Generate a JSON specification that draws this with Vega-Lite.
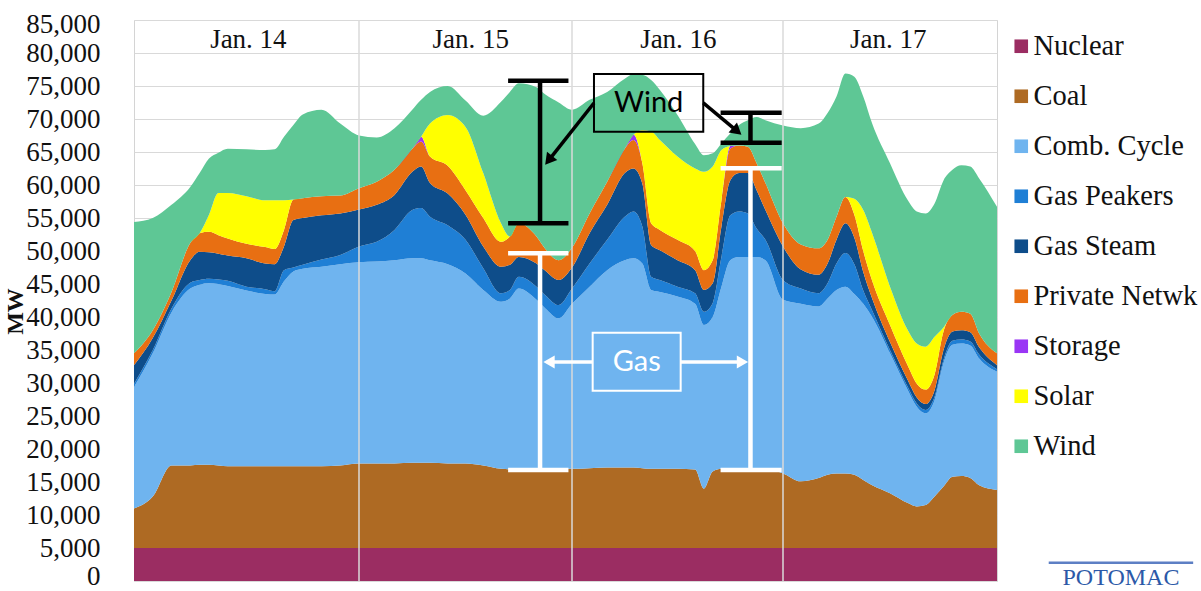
{
"$schema":"https://vega.github.io/schema/vega-lite/v6.json",
"width":863,"height":561,
"autosize":{"type":"none"},
"padding":{"left":134,"top":20,"right":204,"bottom":10},
"background":"white",
"config":{"view":{"stroke":"#d4d4d4","strokeWidth":1},"font":"Liberation Serif","axis":{"labelOverlap":false},"axisY":{"labelOverlap":false,"labelSeparation":0}},
"datasets":{
"order":[{"s":"Nuclear","k":1},{"s":"Coal","k":2},{"s":"Comb. Cycle","k":3},{"s":"Gas Peakers","k":4},{"s":"Gas Steam","k":5},{"s":"Private Netwk","k":6},{"s":"Storage","k":7},{"s":"Solar","k":8},{"s":"Wind","k":9}],
"gen":[
{"t":0,"s":"Nuclear","v":5000},{"t":0,"s":"Coal","v":6000},{"t":0,"s":"Comb. Cycle","v":18400},{"t":0,"s":"Gas Peakers","v":500},{"t":0,"s":"Gas Steam","v":2800},{"t":0,"s":"Private Netwk","v":1800},{"t":0,"s":"Storage","v":0},{"t":0,"s":"Solar","v":0},{"t":0,"s":"Wind","v":19900},
{"t":2,"s":"Nuclear","v":5000},{"t":2,"s":"Coal","v":7800},{"t":2,"s":"Comb. Cycle","v":21700},{"t":2,"s":"Gas Peakers","v":500},{"t":2,"s":"Gas Steam","v":1800},{"t":2,"s":"Private Netwk","v":1200},{"t":2,"s":"Storage","v":0},{"t":2,"s":"Solar","v":0},{"t":2,"s":"Wind","v":17000},
{"t":4,"s":"Nuclear","v":5000},{"t":4,"s":"Coal","v":12500},{"t":4,"s":"Comb. Cycle","v":23200},{"t":4,"s":"Gas Peakers","v":600},{"t":4,"s":"Gas Steam","v":1200},{"t":4,"s":"Private Netwk","v":1300},{"t":4,"s":"Storage","v":0},{"t":4,"s":"Solar","v":0},{"t":4,"s":"Wind","v":13200},
{"t":6,"s":"Nuclear","v":5000},{"t":6,"s":"Coal","v":12500},{"t":6,"s":"Comb. Cycle","v":26800},{"t":6,"s":"Gas Peakers","v":900},{"t":6,"s":"Gas Steam","v":3400},{"t":6,"s":"Private Netwk","v":2600},{"t":6,"s":"Storage","v":0},{"t":6,"s":"Solar","v":0},{"t":6,"s":"Wind","v":8500},
{"t":7,"s":"Nuclear","v":5000},{"t":7,"s":"Coal","v":12600},{"t":7,"s":"Comb. Cycle","v":27300},{"t":7,"s":"Gas Peakers","v":700},{"t":7,"s":"Gas Steam","v":4300},{"t":7,"s":"Private Netwk","v":2800},{"t":7,"s":"Storage","v":0},{"t":7,"s":"Solar","v":0},{"t":7,"s":"Wind","v":9100},
{"t":8,"s":"Nuclear","v":5000},{"t":8,"s":"Coal","v":12600},{"t":8,"s":"Comb. Cycle","v":27500},{"t":8,"s":"Gas Peakers","v":700},{"t":8,"s":"Gas Steam","v":4000},{"t":8,"s":"Private Netwk","v":3100},{"t":8,"s":"Storage","v":0},{"t":8,"s":"Solar","v":2600},{"t":8,"s":"Wind","v":8500},
{"t":9,"s":"Nuclear","v":5000},{"t":9,"s":"Coal","v":12500},{"t":9,"s":"Comb. Cycle","v":27500},{"t":9,"s":"Gas Peakers","v":700},{"t":9,"s":"Gas Steam","v":3900},{"t":9,"s":"Private Netwk","v":2800},{"t":9,"s":"Storage","v":0},{"t":9,"s":"Solar","v":6400},{"t":9,"s":"Wind","v":6100},
{"t":10,"s":"Nuclear","v":5000},{"t":10,"s":"Coal","v":12400},{"t":10,"s":"Comb. Cycle","v":27300},{"t":10,"s":"Gas Peakers","v":800},{"t":10,"s":"Gas Steam","v":3800},{"t":10,"s":"Private Netwk","v":2600},{"t":10,"s":"Storage","v":0},{"t":10,"s":"Solar","v":6900},{"t":10,"s":"Wind","v":6700},
{"t":12,"s":"Nuclear","v":5000},{"t":12,"s":"Coal","v":12400},{"t":12,"s":"Comb. Cycle","v":26600},{"t":12,"s":"Gas Peakers","v":600},{"t":12,"s":"Gas Steam","v":4300},{"t":12,"s":"Private Netwk","v":2200},{"t":12,"s":"Storage","v":0},{"t":12,"s":"Solar","v":7200},{"t":12,"s":"Wind","v":7100},
{"t":14,"s":"Nuclear","v":5000},{"t":14,"s":"Coal","v":12400},{"t":14,"s":"Comb. Cycle","v":26100},{"t":14,"s":"Gas Peakers","v":700},{"t":14,"s":"Gas Steam","v":3900},{"t":14,"s":"Private Netwk","v":2500},{"t":14,"s":"Storage","v":0},{"t":14,"s":"Solar","v":7100},{"t":14,"s":"Wind","v":7600},
{"t":15,"s":"Nuclear","v":5000},{"t":15,"s":"Coal","v":12400},{"t":15,"s":"Comb. Cycle","v":26000},{"t":15,"s":"Gas Peakers","v":500},{"t":15,"s":"Gas Steam","v":4100},{"t":15,"s":"Private Netwk","v":2300},{"t":15,"s":"Storage","v":0},{"t":15,"s":"Solar","v":7400},{"t":15,"s":"Wind","v":7700},
{"t":16,"s":"Nuclear","v":5000},{"t":16,"s":"Coal","v":12400},{"t":16,"s":"Comb. Cycle","v":28000},{"t":16,"s":"Gas Peakers","v":1700},{"t":16,"s":"Gas Steam","v":3600},{"t":16,"s":"Private Netwk","v":2500},{"t":16,"s":"Storage","v":0},{"t":16,"s":"Solar","v":4500},{"t":16,"s":"Wind","v":9600},
{"t":17,"s":"Nuclear","v":5000},{"t":17,"s":"Coal","v":12400},{"t":17,"s":"Comb. Cycle","v":29500},{"t":17,"s":"Gas Peakers","v":600},{"t":17,"s":"Gas Steam","v":7200},{"t":17,"s":"Private Netwk","v":3100},{"t":17,"s":"Storage","v":0},{"t":17,"s":"Solar","v":0},{"t":17,"s":"Wind","v":11300},
{"t":18,"s":"Nuclear","v":5000},{"t":18,"s":"Coal","v":12400},{"t":18,"s":"Comb. Cycle","v":29900},{"t":18,"s":"Gas Peakers","v":600},{"t":18,"s":"Gas Steam","v":7100},{"t":18,"s":"Private Netwk","v":3000},{"t":18,"s":"Storage","v":0},{"t":18,"s":"Solar","v":0},{"t":18,"s":"Wind","v":12700},
{"t":20,"s":"Nuclear","v":5000},{"t":20,"s":"Coal","v":12400},{"t":20,"s":"Comb. Cycle","v":30200},{"t":20,"s":"Gas Peakers","v":1100},{"t":20,"s":"Gas Steam","v":6700},{"t":20,"s":"Private Netwk","v":2900},{"t":20,"s":"Storage","v":0},{"t":20,"s":"Solar","v":0},{"t":20,"s":"Wind","v":13100},
{"t":22,"s":"Nuclear","v":5000},{"t":22,"s":"Coal","v":12500},{"t":22,"s":"Comb. Cycle","v":30500},{"t":22,"s":"Gas Peakers","v":1400},{"t":22,"s":"Gas Steam","v":6300},{"t":22,"s":"Private Netwk","v":2700},{"t":22,"s":"Storage","v":0},{"t":22,"s":"Solar","v":0},{"t":22,"s":"Wind","v":10900},
{"t":24,"s":"Nuclear","v":5000},{"t":24,"s":"Coal","v":12800},{"t":24,"s":"Comb. Cycle","v":30500},{"t":24,"s":"Gas Peakers","v":2400},{"t":24,"s":"Gas Steam","v":5600},{"t":24,"s":"Private Netwk","v":3200},{"t":24,"s":"Storage","v":0},{"t":24,"s":"Solar","v":0},{"t":24,"s":"Wind","v":8000},
{"t":26,"s":"Nuclear","v":5000},{"t":26,"s":"Coal","v":12800},{"t":26,"s":"Comb. Cycle","v":30600},{"t":26,"s":"Gas Peakers","v":3000},{"t":26,"s":"Gas Steam","v":5600},{"t":26,"s":"Private Netwk","v":3500},{"t":26,"s":"Storage","v":0},{"t":26,"s":"Solar","v":0},{"t":26,"s":"Wind","v":6700},
{"t":28,"s":"Nuclear","v":5000},{"t":28,"s":"Coal","v":12800},{"t":28,"s":"Comb. Cycle","v":30800},{"t":28,"s":"Gas Peakers","v":4600},{"t":28,"s":"Gas Steam","v":5300},{"t":28,"s":"Private Netwk","v":3800},{"t":28,"s":"Storage","v":0},{"t":28,"s":"Solar","v":0},{"t":28,"s":"Wind","v":6300},
{"t":30,"s":"Nuclear","v":5000},{"t":30,"s":"Coal","v":12900},{"t":30,"s":"Comb. Cycle","v":31000},{"t":30,"s":"Gas Peakers","v":7300},{"t":30,"s":"Gas Steam","v":5800},{"t":30,"s":"Private Netwk","v":3500},{"t":30,"s":"Storage","v":0},{"t":30,"s":"Solar","v":0},{"t":30,"s":"Wind","v":5900},
{"t":31,"s":"Nuclear","v":5000},{"t":31,"s":"Coal","v":12900},{"t":31,"s":"Comb. Cycle","v":31000},{"t":31,"s":"Gas Peakers","v":7600},{"t":31,"s":"Gas Steam","v":6300},{"t":31,"s":"Private Netwk","v":3800},{"t":31,"s":"Storage","v":700},{"t":31,"s":"Solar","v":0},{"t":31,"s":"Wind","v":5600},
{"t":32,"s":"Nuclear","v":5000},{"t":32,"s":"Coal","v":12900},{"t":32,"s":"Comb. Cycle","v":30700},{"t":32,"s":"Gas Peakers","v":6600},{"t":32,"s":"Gas Steam","v":5100},{"t":32,"s":"Private Netwk","v":4000},{"t":32,"s":"Storage","v":0},{"t":32,"s":"Solar","v":5000},{"t":32,"s":"Wind","v":4800},
{"t":34,"s":"Nuclear","v":5000},{"t":34,"s":"Coal","v":12800},{"t":34,"s":"Comb. Cycle","v":30200},{"t":34,"s":"Gas Peakers","v":5900},{"t":34,"s":"Gas Steam","v":4800},{"t":34,"s":"Private Netwk","v":4200},{"t":34,"s":"Storage","v":0},{"t":34,"s":"Solar","v":7700},{"t":34,"s":"Wind","v":4400},
{"t":36,"s":"Nuclear","v":5000},{"t":36,"s":"Coal","v":12800},{"t":36,"s":"Comb. Cycle","v":28800},{"t":36,"s":"Gas Peakers","v":5100},{"t":36,"s":"Gas Steam","v":3800},{"t":36,"s":"Private Netwk","v":3700},{"t":36,"s":"Storage","v":0},{"t":36,"s":"Solar","v":9600},{"t":36,"s":"Wind","v":4000},
{"t":38,"s":"Nuclear","v":5000},{"t":38,"s":"Coal","v":12500},{"t":38,"s":"Comb. Cycle","v":26600},{"t":38,"s":"Gas Peakers","v":3300},{"t":38,"s":"Gas Steam","v":3300},{"t":38,"s":"Private Netwk","v":4300},{"t":38,"s":"Storage","v":0},{"t":38,"s":"Solar","v":6800},{"t":38,"s":"Wind","v":8700},
{"t":40,"s":"Nuclear","v":5000},{"t":40,"s":"Coal","v":12000},{"t":40,"s":"Comb. Cycle","v":25300},{"t":40,"s":"Gas Peakers","v":1300},{"t":40,"s":"Gas Steam","v":4000},{"t":40,"s":"Private Netwk","v":3800},{"t":40,"s":"Storage","v":0},{"t":40,"s":"Solar","v":2800},{"t":40,"s":"Wind","v":18400},
{"t":41,"s":"Nuclear","v":5000},{"t":41,"s":"Coal","v":11900},{"t":41,"s":"Comb. Cycle","v":25900},{"t":41,"s":"Gas Peakers","v":1300},{"t":41,"s":"Gas Steam","v":3800},{"t":41,"s":"Private Netwk","v":4300},{"t":41,"s":"Storage","v":0},{"t":41,"s":"Solar","v":0},{"t":41,"s":"Wind","v":21900},
{"t":42,"s":"Nuclear","v":5000},{"t":42,"s":"Coal","v":11800},{"t":42,"s":"Comb. Cycle","v":27500},{"t":42,"s":"Gas Peakers","v":1800},{"t":42,"s":"Gas Steam","v":3000},{"t":42,"s":"Private Netwk","v":5100},{"t":42,"s":"Storage","v":0},{"t":42,"s":"Solar","v":0},{"t":42,"s":"Wind","v":21200},
{"t":44,"s":"Nuclear","v":5000},{"t":44,"s":"Coal","v":11800},{"t":44,"s":"Comb. Cycle","v":25800},{"t":44,"s":"Gas Peakers","v":2000},{"t":44,"s":"Gas Steam","v":3500},{"t":44,"s":"Private Netwk","v":4100},{"t":44,"s":"Storage","v":0},{"t":44,"s":"Solar","v":0},{"t":44,"s":"Wind","v":22600},
{"t":45,"s":"Nuclear","v":5000},{"t":45,"s":"Coal","v":11900},{"t":45,"s":"Comb. Cycle","v":24400},{"t":45,"s":"Gas Peakers","v":2000},{"t":45,"s":"Gas Steam","v":3700},{"t":45,"s":"Private Netwk","v":3300},{"t":45,"s":"Storage","v":0},{"t":45,"s":"Solar","v":0},{"t":45,"s":"Wind","v":23400},
{"t":46.5,"s":"Nuclear","v":5000},{"t":46.5,"s":"Coal","v":12000},{"t":46.5,"s":"Comb. Cycle","v":22800},{"t":46.5,"s":"Gas Peakers","v":2000},{"t":46.5,"s":"Gas Steam","v":3800},{"t":46.5,"s":"Private Netwk","v":3000},{"t":46.5,"s":"Storage","v":0},{"t":46.5,"s":"Solar","v":0},{"t":46.5,"s":"Wind","v":23900},
{"t":48,"s":"Nuclear","v":5000},{"t":48,"s":"Coal","v":12000},{"t":48,"s":"Comb. Cycle","v":25000},{"t":48,"s":"Gas Peakers","v":2300},{"t":48,"s":"Gas Steam","v":3200},{"t":48,"s":"Private Netwk","v":3000},{"t":48,"s":"Storage","v":0},{"t":48,"s":"Solar","v":0},{"t":48,"s":"Wind","v":20900},
{"t":50,"s":"Nuclear","v":5000},{"t":50,"s":"Coal","v":12100},{"t":50,"s":"Comb. Cycle","v":27500},{"t":50,"s":"Gas Peakers","v":3500},{"t":50,"s":"Gas Steam","v":4600},{"t":50,"s":"Private Netwk","v":3000},{"t":50,"s":"Storage","v":0},{"t":50,"s":"Solar","v":0},{"t":50,"s":"Wind","v":17200},
{"t":52,"s":"Nuclear","v":5000},{"t":52,"s":"Coal","v":12200},{"t":52,"s":"Comb. Cycle","v":29900},{"t":52,"s":"Gas Peakers","v":4600},{"t":52,"s":"Gas Steam","v":5300},{"t":52,"s":"Private Netwk","v":3500},{"t":52,"s":"Storage","v":0},{"t":52,"s":"Solar","v":0},{"t":52,"s":"Wind","v":13600},
{"t":54,"s":"Nuclear","v":5000},{"t":54,"s":"Coal","v":12200},{"t":54,"s":"Comb. Cycle","v":31400},{"t":54,"s":"Gas Peakers","v":6600},{"t":54,"s":"Gas Steam","v":6600},{"t":54,"s":"Private Netwk","v":3700},{"t":54,"s":"Storage","v":0},{"t":54,"s":"Solar","v":0},{"t":54,"s":"Wind","v":10600},
{"t":55,"s":"Nuclear","v":5000},{"t":55,"s":"Coal","v":12200},{"t":55,"s":"Comb. Cycle","v":31700},{"t":55,"s":"Gas Peakers","v":7100},{"t":55,"s":"Gas Steam","v":6500},{"t":55,"s":"Private Netwk","v":4300},{"t":55,"s":"Storage","v":800},{"t":55,"s":"Solar","v":0},{"t":55,"s":"Wind","v":9200},
{"t":56,"s":"Nuclear","v":5000},{"t":56,"s":"Coal","v":12100},{"t":56,"s":"Comb. Cycle","v":31000},{"t":56,"s":"Gas Peakers","v":5600},{"t":56,"s":"Gas Steam","v":6500},{"t":56,"s":"Private Netwk","v":3100},{"t":56,"s":"Storage","v":0},{"t":56,"s":"Solar","v":5000},{"t":56,"s":"Wind","v":8400},
{"t":57,"s":"Nuclear","v":5000},{"t":57,"s":"Coal","v":12000},{"t":57,"s":"Comb. Cycle","v":27100},{"t":57,"s":"Gas Peakers","v":2000},{"t":57,"s":"Gas Steam","v":4800},{"t":57,"s":"Private Netwk","v":3300},{"t":57,"s":"Storage","v":0},{"t":57,"s":"Solar","v":13900},{"t":57,"s":"Wind","v":7800},
{"t":58,"s":"Nuclear","v":5000},{"t":58,"s":"Coal","v":12000},{"t":58,"s":"Comb. Cycle","v":26800},{"t":58,"s":"Gas Peakers","v":1800},{"t":58,"s":"Gas Steam","v":4500},{"t":58,"s":"Private Netwk","v":3100},{"t":58,"s":"Storage","v":0},{"t":58,"s":"Solar","v":13600},{"t":58,"s":"Wind","v":7600},
{"t":60,"s":"Nuclear","v":5000},{"t":60,"s":"Coal","v":12000},{"t":60,"s":"Comb. Cycle","v":26100},{"t":60,"s":"Gas Peakers","v":1500},{"t":60,"s":"Gas Steam","v":4000},{"t":60,"s":"Private Netwk","v":3100},{"t":60,"s":"Storage","v":0},{"t":60,"s":"Solar","v":12600},{"t":60,"s":"Wind","v":6300},
{"t":62,"s":"Nuclear","v":5000},{"t":62,"s":"Coal","v":11900},{"t":62,"s":"Comb. Cycle","v":25100},{"t":62,"s":"Gas Peakers","v":1600},{"t":62,"s":"Gas Steam","v":3500},{"t":62,"s":"Private Netwk","v":2900},{"t":62,"s":"Storage","v":0},{"t":62,"s":"Solar","v":12500},{"t":62,"s":"Wind","v":3700},
{"t":63,"s":"Nuclear","v":5000},{"t":63,"s":"Coal","v":9000},{"t":63,"s":"Comb. Cycle","v":24800},{"t":63,"s":"Gas Peakers","v":2000},{"t":63,"s":"Gas Steam","v":3300},{"t":63,"s":"Private Netwk","v":3000},{"t":63,"s":"Storage","v":0},{"t":63,"s":"Solar","v":14900},{"t":63,"s":"Wind","v":2500},
{"t":64,"s":"Nuclear","v":5000},{"t":64,"s":"Coal","v":11600},{"t":64,"s":"Comb. Cycle","v":23400},{"t":64,"s":"Gas Peakers","v":2100},{"t":64,"s":"Gas Steam","v":3000},{"t":64,"s":"Private Netwk","v":3500},{"t":64,"s":"Storage","v":0},{"t":64,"s":"Solar","v":14200},{"t":64,"s":"Wind","v":2000},
{"t":65,"s":"Nuclear","v":5000},{"t":65,"s":"Coal","v":12000},{"t":65,"s":"Comb. Cycle","v":27600},{"t":65,"s":"Gas Peakers","v":4500},{"t":65,"s":"Gas Steam","v":4600},{"t":65,"s":"Private Netwk","v":4000},{"t":65,"s":"Storage","v":0},{"t":65,"s":"Solar","v":7600},{"t":65,"s":"Wind","v":1000},
{"t":66,"s":"Nuclear","v":5000},{"t":66,"s":"Coal","v":12000},{"t":66,"s":"Comb. Cycle","v":31600},{"t":66,"s":"Gas Peakers","v":6800},{"t":66,"s":"Gas Steam","v":5300},{"t":66,"s":"Private Netwk","v":4800},{"t":66,"s":"Storage","v":400},{"t":66,"s":"Solar","v":0},{"t":66,"s":"Wind","v":1900},
{"t":67,"s":"Nuclear","v":5000},{"t":67,"s":"Coal","v":12000},{"t":67,"s":"Comb. Cycle","v":32100},{"t":67,"s":"Gas Peakers","v":6900},{"t":67,"s":"Gas Steam","v":5800},{"t":67,"s":"Private Netwk","v":4200},{"t":67,"s":"Storage","v":0},{"t":67,"s":"Solar","v":0},{"t":67,"s":"Wind","v":3100},
{"t":68,"s":"Nuclear","v":5000},{"t":68,"s":"Coal","v":12000},{"t":68,"s":"Comb. Cycle","v":32100},{"t":68,"s":"Gas Peakers","v":6600},{"t":68,"s":"Gas Steam","v":6100},{"t":68,"s":"Private Netwk","v":4000},{"t":68,"s":"Storage","v":0},{"t":68,"s":"Solar","v":0},{"t":68,"s":"Wind","v":4000},
{"t":69,"s":"Nuclear","v":5000},{"t":69,"s":"Coal","v":12000},{"t":69,"s":"Comb. Cycle","v":32100},{"t":69,"s":"Gas Peakers","v":4300},{"t":69,"s":"Gas Steam","v":5800},{"t":69,"s":"Private Netwk","v":4100},{"t":69,"s":"Storage","v":0},{"t":69,"s":"Solar","v":0},{"t":69,"s":"Wind","v":7000},
{"t":70,"s":"Nuclear","v":5000},{"t":70,"s":"Coal","v":12000},{"t":70,"s":"Comb. Cycle","v":31600},{"t":70,"s":"Gas Peakers","v":3100},{"t":70,"s":"Gas Steam","v":4500},{"t":70,"s":"Private Netwk","v":4100},{"t":70,"s":"Storage","v":0},{"t":70,"s":"Solar","v":0},{"t":70,"s":"Wind","v":9500},
{"t":72,"s":"Nuclear","v":5000},{"t":72,"s":"Coal","v":11300},{"t":72,"s":"Comb. Cycle","v":26300},{"t":72,"s":"Gas Peakers","v":3000},{"t":72,"s":"Gas Steam","v":5100},{"t":72,"s":"Private Netwk","v":3500},{"t":72,"s":"Storage","v":0},{"t":72,"s":"Solar","v":0},{"t":72,"s":"Wind","v":14800},
{"t":74,"s":"Nuclear","v":5000},{"t":74,"s":"Coal","v":10100},{"t":74,"s":"Comb. Cycle","v":26900},{"t":74,"s":"Gas Peakers","v":2300},{"t":74,"s":"Gas Steam","v":2900},{"t":74,"s":"Private Netwk","v":3800},{"t":74,"s":"Storage","v":0},{"t":74,"s":"Solar","v":0},{"t":74,"s":"Wind","v":17600},
{"t":76,"s":"Nuclear","v":5000},{"t":76,"s":"Coal","v":10600},{"t":76,"s":"Comb. Cycle","v":26000},{"t":76,"s":"Gas Peakers","v":2000},{"t":76,"s":"Gas Steam","v":2800},{"t":76,"s":"Private Netwk","v":4000},{"t":76,"s":"Storage","v":0},{"t":76,"s":"Solar","v":0},{"t":76,"s":"Wind","v":18900},
{"t":77,"s":"Nuclear","v":5000},{"t":77,"s":"Coal","v":11100},{"t":77,"s":"Comb. Cycle","v":26700},{"t":77,"s":"Gas Peakers","v":2300},{"t":77,"s":"Gas Steam","v":3000},{"t":77,"s":"Private Netwk","v":3600},{"t":77,"s":"Storage","v":0},{"t":77,"s":"Solar","v":0},{"t":77,"s":"Wind","v":19200},
{"t":78,"s":"Nuclear","v":5000},{"t":78,"s":"Coal","v":11300},{"t":78,"s":"Comb. Cycle","v":27800},{"t":78,"s":"Gas Peakers","v":4000},{"t":78,"s":"Gas Steam","v":3600},{"t":78,"s":"Private Netwk","v":3500},{"t":78,"s":"Storage","v":0},{"t":78,"s":"Solar","v":0},{"t":78,"s":"Wind","v":18200},
{"t":79,"s":"Nuclear","v":5000},{"t":79,"s":"Coal","v":11300},{"t":79,"s":"Comb. Cycle","v":28300},{"t":79,"s":"Gas Peakers","v":5100},{"t":79,"s":"Gas Steam","v":4500},{"t":79,"s":"Private Netwk","v":4000},{"t":79,"s":"Storage","v":0},{"t":79,"s":"Solar","v":0},{"t":79,"s":"Wind","v":18700},
{"t":80,"s":"Nuclear","v":5000},{"t":80,"s":"Coal","v":11100},{"t":80,"s":"Comb. Cycle","v":27400},{"t":80,"s":"Gas Peakers","v":4500},{"t":80,"s":"Gas Steam","v":4000},{"t":80,"s":"Private Netwk","v":3500},{"t":80,"s":"Storage","v":0},{"t":80,"s":"Solar","v":2400},{"t":80,"s":"Wind","v":18500},
{"t":81,"s":"Nuclear","v":5000},{"t":81,"s":"Coal","v":10300},{"t":81,"s":"Comb. Cycle","v":26700},{"t":81,"s":"Gas Peakers","v":2000},{"t":81,"s":"Gas Steam","v":2800},{"t":81,"s":"Private Netwk","v":3200},{"t":81,"s":"Storage","v":0},{"t":81,"s":"Solar","v":6200},{"t":81,"s":"Wind","v":17200},
{"t":82,"s":"Nuclear","v":5000},{"t":82,"s":"Coal","v":9500},{"t":82,"s":"Comb. Cycle","v":25500},{"t":82,"s":"Gas Peakers","v":1000},{"t":82,"s":"Gas Steam","v":1800},{"t":82,"s":"Private Netwk","v":2700},{"t":82,"s":"Storage","v":0},{"t":82,"s":"Solar","v":7200},{"t":82,"s":"Wind","v":16600},
{"t":84,"s":"Nuclear","v":5000},{"t":84,"s":"Coal","v":8300},{"t":84,"s":"Comb. Cycle","v":21200},{"t":84,"s":"Gas Peakers","v":500},{"t":84,"s":"Gas Steam","v":1200},{"t":84,"s":"Private Netwk","v":2600},{"t":84,"s":"Storage","v":0},{"t":84,"s":"Solar","v":5800},{"t":84,"s":"Wind","v":18700},
{"t":86,"s":"Nuclear","v":5000},{"t":86,"s":"Coal","v":6800},{"t":86,"s":"Comb. Cycle","v":17100},{"t":86,"s":"Gas Peakers","v":500},{"t":86,"s":"Gas Steam","v":1000},{"t":86,"s":"Private Netwk","v":2200},{"t":86,"s":"Storage","v":0},{"t":86,"s":"Solar","v":5400},{"t":86,"s":"Wind","v":19700},
{"t":87,"s":"Nuclear","v":5000},{"t":87,"s":"Coal","v":6300},{"t":87,"s":"Comb. Cycle","v":15100},{"t":87,"s":"Gas Peakers","v":500},{"t":87,"s":"Gas Steam","v":900},{"t":87,"s":"Private Netwk","v":2100},{"t":87,"s":"Storage","v":0},{"t":87,"s":"Solar","v":6100},{"t":87,"s":"Wind","v":20000},
{"t":88,"s":"Nuclear","v":5000},{"t":88,"s":"Coal","v":6500},{"t":88,"s":"Comb. Cycle","v":13900},{"t":88,"s":"Gas Peakers","v":500},{"t":88,"s":"Gas Steam","v":900},{"t":88,"s":"Private Netwk","v":2200},{"t":88,"s":"Storage","v":0},{"t":88,"s":"Solar","v":6500},{"t":88,"s":"Wind","v":20200},
{"t":89,"s":"Nuclear","v":5000},{"t":89,"s":"Coal","v":7800},{"t":89,"s":"Comb. Cycle","v":14600},{"t":89,"s":"Gas Peakers","v":500},{"t":89,"s":"Gas Steam","v":1000},{"t":89,"s":"Private Netwk","v":2400},{"t":89,"s":"Storage","v":0},{"t":89,"s":"Solar","v":5700},{"t":89,"s":"Wind","v":20200},
{"t":90,"s":"Nuclear","v":5000},{"t":90,"s":"Coal","v":9300},{"t":90,"s":"Comb. Cycle","v":18700},{"t":90,"s":"Gas Peakers","v":500},{"t":90,"s":"Gas Steam","v":1500},{"t":90,"s":"Private Netwk","v":2800},{"t":90,"s":"Storage","v":0},{"t":90,"s":"Solar","v":600},{"t":90,"s":"Wind","v":22300},
{"t":91,"s":"Nuclear","v":5000},{"t":91,"s":"Coal","v":10800},{"t":91,"s":"Comb. Cycle","v":20000},{"t":91,"s":"Gas Peakers","v":600},{"t":91,"s":"Gas Steam","v":1400},{"t":91,"s":"Private Netwk","v":2500},{"t":91,"s":"Storage","v":0},{"t":91,"s":"Solar","v":0},{"t":91,"s":"Wind","v":22000},
{"t":92,"s":"Nuclear","v":5000},{"t":92,"s":"Coal","v":10900},{"t":92,"s":"Comb. Cycle","v":20100},{"t":92,"s":"Gas Peakers","v":600},{"t":92,"s":"Gas Steam","v":1400},{"t":92,"s":"Private Netwk","v":2800},{"t":92,"s":"Storage","v":0},{"t":92,"s":"Solar","v":0},{"t":92,"s":"Wind","v":22200},
{"t":93,"s":"Nuclear","v":5000},{"t":93,"s":"Coal","v":10600},{"t":93,"s":"Comb. Cycle","v":20100},{"t":93,"s":"Gas Peakers","v":600},{"t":93,"s":"Gas Steam","v":1400},{"t":93,"s":"Private Netwk","v":2800},{"t":93,"s":"Storage","v":0},{"t":93,"s":"Solar","v":0},{"t":93,"s":"Wind","v":22300},
{"t":94,"s":"Nuclear","v":5000},{"t":94,"s":"Coal","v":9500},{"t":94,"s":"Comb. Cycle","v":19200},{"t":94,"s":"Gas Peakers","v":600},{"t":94,"s":"Gas Steam","v":1100},{"t":94,"s":"Private Netwk","v":2100},{"t":94,"s":"Storage","v":0},{"t":94,"s":"Solar","v":0},{"t":94,"s":"Wind","v":23500},
{"t":96,"s":"Nuclear","v":5000},{"t":96,"s":"Coal","v":8800},{"t":96,"s":"Comb. Cycle","v":17900},{"t":96,"s":"Gas Peakers","v":400},{"t":96,"s":"Gas Steam","v":600},{"t":96,"s":"Private Netwk","v":1800},{"t":96,"s":"Storage","v":0},{"t":96,"s":"Solar","v":0},{"t":96,"s":"Wind","v":22200}
],
"days":[{"t":24},{"t":48},{"t":72}],
"dayLabels":[{"t":12.2,"v":80760,"label":"Jan. 14"},{"t":36.6,"v":80760,"label":"Jan. 15"},{"t":60.1,"v":80760,"label":"Jan. 16"},{"t":83.8,"v":80760,"label":"Jan. 17"}],
"blackBrackets":[
{"t":40.8,"t2":47.6,"v":75800,"v2":75800},{"t":40.8,"t2":47.6,"v":54200,"v2":54200},{"t":44.4,"t2":44.4,"v":54200,"v2":75800},
{"t":64.9,"t2":71.85,"v":70960,"v2":70960},{"t":64.9,"t2":71.85,"v":66410,"v2":66410},{"t":68.3,"t2":68.3,"v":66410,"v2":70960}],
"whiteBrackets":[
{"t":40.8,"t2":47.6,"v":49650,"v2":49650},{"t":40.8,"t2":47.6,"v":16820,"v2":16820},{"t":44.4,"t2":44.4,"v":16820,"v2":49650},
{"t":64.9,"t2":71.85,"v":62530,"v2":62530},{"t":64.9,"t2":71.85,"v":16820,"v2":16820},{"t":68.3,"t2":68.3,"v":16820,"v2":62530}],
"blackArrows":[{"t":50.5,"t2":45.37,"v":72430,"v2":63740},{"t":62.93,"t2":66.78,"v":72430,"v2":68150}],
"whiteArrows":[{"t":50.35,"t2":45.41,"v":33180,"v2":33180},{"t":60.36,"t2":67.39,"v":33180,"v2":33180}],
"windBox":[{"t":50.5,"t2":62.93,"v":68080,"v2":76820,"label":"Wind","tc":56.72,"vc":72430}],
"gasBox":[{"t":50.35,"t2":60.36,"v":28830,"v2":37620,"label":"Gas","tc":55.36,"vc":33180}],
"logo":[{"t":109.9,"v":-1364,"t1":101.8,"t2":118.0,"vl":2770,"label":"POTOMAC"}]
},
"layer":[
{"data":{"name":"gen"},
 "transform":[{"lookup":"s","from":{"data":{"name":"order"},"key":"s","fields":["k"]}}],
 "mark":{"type":"area","interpolate":"monotone"},
 "encoding":{
  "x":{"field":"t","type":"quantitative","scale":{"domain":[0,24,48,72,96],"range":[0,225,438,649,863],"nice":false,"zero":false},"axis":null},
  "y":{"field":"v","type":"quantitative","stack":"zero","scale":{"domain":[0,85000],"nice":false},
   "axis":{"title":"MW","titleFont":"Liberation Serif","titleFontSize":24,"titleFontWeight":"bold","titleColor":"#111","titleX":-112,"titleY":291,"titleAngle":-90,"titleBaseline":"alphabetic","titleAlign":"center",
    "values":[0,5000,10000,15000,20000,25000,30000,35000,40000,45000,50000,55000,60000,65000,70000,75000,80000,85000],"tickCount":20,
    "format":",d","labelFont":"Liberation Serif","labelFontSize":27,"labelColor":"#111","labelPadding":34,"labelFlush":true,"labelFlushOffset":9,"labelOverlap":false,"labelSeparation":0,"labelBound":false,
    "ticks":false,"tickSize":0,"domain":false,"grid":true,"gridColor":"#d9d9d9","gridWidth":1}},
  "color":{"field":"s","type":"nominal",
   "scale":{"domain":["Nuclear","Coal","Comb. Cycle","Gas Peakers","Gas Steam","Private Netwk","Storage","Solar","Wind"],
    "range":["#9b2d62","#ae6a23","#6fb4ef","#1f7fd5","#0e4d8a","#e86f12","#9a35f5","#ffff00","#5ec795"]},
   "legend":{"title":null,"orient":"none","legendX":873,"legendY":12,"padding":0,"symbolType":"square","symbolSize":185,"symbolStrokeWidth":0,"symbolOpacity":1,
    "labelFont":"Liberation Serif","labelFontSize":28.5,"labelColor":"#111","labelOffset":-2,"labelLimit":300,"rowPadding":21}},
  "order":{"field":"k","type":"quantitative"}
 }},
{"data":{"name":"days"},"mark":{"type":"rule","color":"#dadada","strokeWidth":1.5},
 "encoding":{"x":{"field":"t","type":"quantitative","scale":{"domain":[0,24,48,72,96],"range":[0,225,438,649,863],"nice":false,"zero":false}}}},
{"data":{"name":"dayLabels"},"mark":{"type":"text","font":"Liberation Serif","fontSize":27,"color":"#111","baseline":"alphabetic","align":"center"},
 "encoding":{"x":{"field":"t","type":"quantitative"},"y":{"field":"v","type":"quantitative"},"text":{"field":"label"}}},
{"data":{"name":"whiteBrackets"},"mark":{"type":"rule","color":"white","strokeWidth":4.5},
 "encoding":{"x":{"field":"t","type":"quantitative"},"x2":{"field":"t2"},"y":{"field":"v","type":"quantitative"},"y2":{"field":"v2"}}},
{"data":{"name":"whiteArrows"},"mark":{"type":"rule","color":"white","strokeWidth":3.5},
 "encoding":{"x":{"field":"t","type":"quantitative"},"x2":{"field":"t2"},"y":{"field":"v","type":"quantitative"},"y2":{"field":"v2"}}},
{"data":{"name":"whiteArrows"},"mark":{"type":"point","shape":"triangle-left","filled":true,"color":"white","opacity":1,"size":170},
 "transform":[{"filter":"datum.t2 < 50"}],
 "encoding":{"x":{"field":"t2","type":"quantitative"},"y":{"field":"v","type":"quantitative"}}},
{"data":{"name":"whiteArrows"},"mark":{"type":"point","shape":"triangle-right","filled":true,"color":"white","opacity":1,"size":170},
 "transform":[{"filter":"datum.t2 > 50"}],
 "encoding":{"x":{"field":"t2","type":"quantitative"},"y":{"field":"v","type":"quantitative"}}},
{"data":{"name":"gasBox"},"mark":{"type":"rect","fill":null,"fillOpacity":0,"stroke":"white","strokeWidth":2},
 "encoding":{"x":{"field":"t","type":"quantitative"},"x2":{"field":"t2"},"y":{"field":"v","type":"quantitative"},"y2":{"field":"v2"}}},
{"data":{"name":"gasBox"},"mark":{"type":"text","font":"Lato","fontSize":29,"color":"white","baseline":"middle","align":"center"},
 "encoding":{"x":{"field":"tc","type":"quantitative"},"y":{"field":"vc","type":"quantitative"},"text":{"field":"label"}}},
{"data":{"name":"blackBrackets"},"mark":{"type":"rule","color":"black","strokeWidth":4.5},
 "encoding":{"x":{"field":"t","type":"quantitative"},"x2":{"field":"t2"},"y":{"field":"v","type":"quantitative"},"y2":{"field":"v2"}}},
{"data":{"name":"blackArrows"},"mark":{"type":"rule","color":"black","strokeWidth":3.5},
 "encoding":{"x":{"field":"t","type":"quantitative"},"x2":{"field":"t2"},"y":{"field":"v","type":"quantitative"},"y2":{"field":"v2"}}},
{"data":{"name":"blackArrows"},"mark":{"type":"point","shape":"triangle-up","filled":true,"color":"black","opacity":1,"size":170,"angle":218},
 "transform":[{"filter":"datum.t2 < 50"}],
 "encoding":{"x":{"field":"t2","type":"quantitative"},"y":{"field":"v2","type":"quantitative"}}},
{"data":{"name":"blackArrows"},"mark":{"type":"point","shape":"triangle-up","filled":true,"color":"black","opacity":1,"size":170,"angle":130},
 "transform":[{"filter":"datum.t2 > 50"}],
 "encoding":{"x":{"field":"t2","type":"quantitative"},"y":{"field":"v2","type":"quantitative"}}},
{"data":{"name":"windBox"},"mark":{"type":"rect","fill":null,"fillOpacity":0,"stroke":"black","strokeWidth":2},
 "encoding":{"x":{"field":"t","type":"quantitative"},"x2":{"field":"t2"},"y":{"field":"v","type":"quantitative"},"y2":{"field":"v2"}}},
{"data":{"name":"windBox"},"mark":{"type":"text","font":"Lato","fontSize":29,"color":"black","baseline":"middle","align":"center"},
 "encoding":{"x":{"field":"tc","type":"quantitative"},"y":{"field":"vc","type":"quantitative"},"text":{"field":"label"}}},
{"data":{"name":"logo"},"mark":{"type":"rule","color":"#5d7fc4","strokeWidth":2.5,"clip":false},
 "encoding":{"x":{"field":"t1","type":"quantitative"},"x2":{"field":"t2"},"y":{"field":"vl","type":"quantitative"}}},
{"data":{"name":"logo"},"mark":{"type":"text","font":"Liberation Serif","fontSize":24,"color":"#2c59a8","baseline":"bottom","align":"center","clip":false},
 "encoding":{"x":{"field":"t","type":"quantitative"},"y":{"field":"v","type":"quantitative"},"text":{"field":"label"}}}
]
}
